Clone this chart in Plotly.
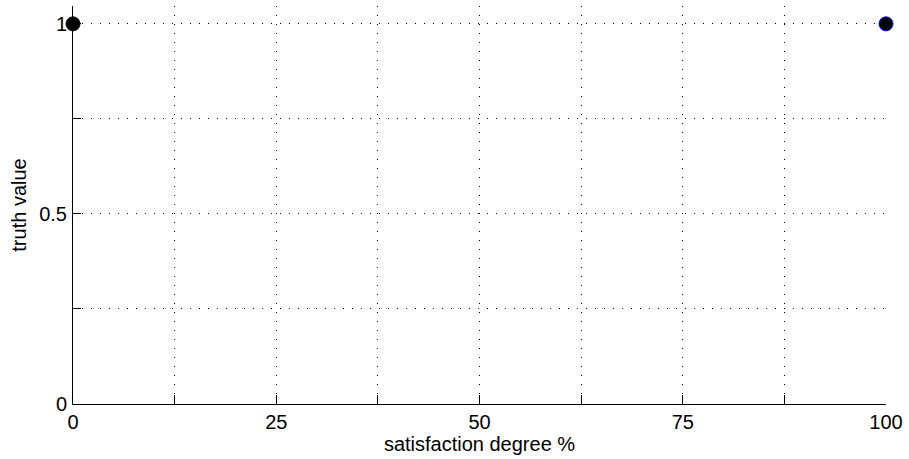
import plotly.graph_objects as go

x_vals = [0, 100]
y_vals = [1, 1]
marker_edge = ["black", "blue"]

x_ticks = [0, 12.5, 25, 37.5, 50, 62.5, 75, 87.5, 100]
x_labels = ["0", "", "25", "", "50", "", "75", "", "100"]
y_ticks = [0, 0.25, 0.5, 0.75, 1]
y_labels = ["0", "", "0.5", "", "1"]

fig = go.Figure()
for xv, yv, ec in zip(x_vals, y_vals, marker_edge):
    fig.add_trace(go.Scatter(
        x=[xv], y=[yv], mode="markers",
        marker=dict(size=14, color="black", line=dict(color=ec, width=1)),
        cliponaxis=False, showlegend=False,
    ))

font = dict(family="Liberation Sans, Arial, sans-serif", size=20, color="black")
fig.update_layout(
    width=909, height=459,
    margin=dict(l=73, r=23, t=6, b=55),
    paper_bgcolor="white", plot_bgcolor="white",
    font=font,
    xaxis=dict(
        range=[0, 100], tickvals=x_ticks, ticktext=x_labels,
        ticks="inside", ticklen=9, tickcolor="black", tickwidth=1,
        showline=True, linecolor="black", linewidth=1, mirror=False,
        showgrid=True, gridcolor="black", gridwidth=1, griddash="1px,8px",
        zeroline=False, title=dict(text="satisfaction degree %", standoff=4, font=font),
        tickfont=font,
    ),
    yaxis=dict(
        range=[0, 1.047], tickvals=y_ticks, ticktext=y_labels,
        ticks="inside", ticklen=8, tickcolor="black", tickwidth=1,
        showline=True, linecolor="black", linewidth=1, mirror=False,
        showgrid=True, gridcolor="black", gridwidth=1, griddash="1px,8px",
        zeroline=False, title=dict(text="truth value", standoff=7, font=font),
        tickfont=font, ticklabelstandoff=1,
    ),
)
fig.write_html("out.html", config={"displayModeBar": False},
               post_script="document.body.style.margin='0px';")
